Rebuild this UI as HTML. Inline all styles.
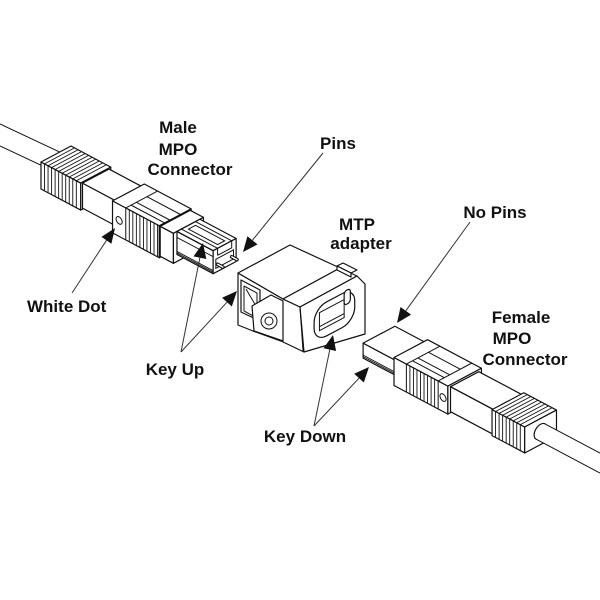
<!DOCTYPE html>
<html><head><meta charset="utf-8">
<style>
html,body{margin:0;padding:0;background:#fff;}
svg{display:block}
.f{fill:#fff;stroke:#111;stroke-width:1.2;stroke-linejoin:round;vector-effect:non-scaling-stroke}
.l{fill:none;stroke:#111;stroke-width:1;vector-effect:non-scaling-stroke}
.r{fill:none;stroke:#111;stroke-width:0.9;vector-effect:non-scaling-stroke}
.a{fill:none;stroke:#333;stroke-width:1}
.h{fill:#111;stroke:none}
text{font-family:"Liberation Sans",Arial,sans-serif;font-weight:bold;font-size:17px;fill:#111}
</style></head><body>
<svg width="600" height="600" viewBox="0 0 600 600">
<rect x="0" y="0" width="600" height="600" fill="#fff"/>

<!-- ===== Male cable ===== -->
<path class="l" d="M0 124L80 161.6M0 146L80 183.6"/>

<!-- ===== Male connector ===== -->
<g transform="translate(56,170)">
  <!-- M1 boot ridged x0-45 -->
  <g transform="matrix(.883,.469,0,-1,-15.01,7.97)">
    <rect class="f" x="0" y="-11" width="45" height="27"/>
    <path class="r" d="M4 -11V16M8 -11V16M12 -11V16M16 -11V16M20 -11V16M24 -11V16M28 -11V16M32 -11V16M36 -11V16M40 -11V16"/>
  </g>
  <g transform="matrix(.883,.469,.883,-.469,0,-16)">
    <rect class="f" x="0" y="-17" width="45" height="34"/>
    <path class="r" d="M4 -17V17M8 -17V17M12 -17V17M16 -17V17M20 -17V17M24 -17V17M28 -17V17M32 -17V17M36 -17V17M40 -17V17"/>
  </g>
  <g transform="matrix(.883,-.469,0,-1,39.74,21.11)">
    <rect class="f" x="-17" y="-11" width="34" height="27"/>
  </g>
  <!-- M2 boot smooth x45-82 -->
  <g transform="matrix(.883,.469,0,-1,-13.25,7.04)">
    <rect class="f" x="45" y="-10" width="37" height="25"/>
  </g>
  <g transform="matrix(.883,.469,.883,-.469,0,-15)">
    <rect class="f" x="45" y="-15" width="37" height="30"/>
  </g>
  <!-- M3/M4 collar + grip x82-135 -->
  <g transform="matrix(.883,.469,0,-1,-15.89,8.44)">
    <rect class="f" x="82" y="-16" width="53" height="32"/>
    <path class="l" d="M97 -16V16"/>
    <circle class="l" cx="89.5" cy="0" r="3.5"/>
    <path class="r" d="M101 -16V16M105 -16V16M109 -16V16M113 -16V16M117 -16V16M121 -16V16M125 -16V16M129 -16V16M133 -16V16"/>
  </g>
  <g transform="matrix(.883,.469,.883,-.469,0,-16)">
    <rect class="f" x="82" y="-18" width="53" height="36"/>
    <path class="l" d="M97 -18V18M97 -12H135M97 -6H135M97 6H135"/>
  </g>
  <g transform="matrix(.883,-.469,0,-1,119.21,63.32)">
    <rect class="f" x="-18" y="-16" width="36" height="32"/>
  </g>
  <!-- M5 housing front x135-150 -->
  <g transform="matrix(.883,.469,0,-1,-15.01,7.97)">
    <rect class="f" x="135" y="-15" width="15" height="30"/>
  </g>
  <g transform="matrix(.883,.469,.883,-.469,0,-15)">
    <rect class="f" x="135" y="-17" width="15" height="34"/>
  </g>
  <g transform="matrix(.883,-.469,0,-1,132.45,70.35)">
    <rect class="f" x="-17" y="-15" width="34" height="30"/>
  </g>
  <!-- M6 ferrule x150-191 -->
  <g transform="matrix(.883,.469,0,-1,-11.48,6.10)">
    <rect class="f" x="150" y="-8" width="41" height="23"/>
    <path class="r" d="M150 -5H191M150 -6.5H191M150 9H191"/>
  </g>
  <g transform="matrix(.883,.469,.883,-.469,0,-15)">
    <rect class="f" x="150" y="-13" width="41" height="26"/>
    <path class="l" d="M150 -8H191M150 8H191"/>
    <rect class="l" x="154" y="-4" width="33" height="8"/>
  </g>
  <g transform="matrix(.883,-.469,0,-1,168.65,89.58)">
    <rect class="f" x="-13" y="-8" width="26" height="23"/>
    <rect class="l" x="-10" y="-4" width="20" height="9"/>
    <path class="l" d="M-8 15V8M8 15V8M-8 8H8"/>
  </g>
</g>
<!-- male pins -->
<path d="M231.7 256.8L237 259.6M217.6 264.3L222.9 267.1" stroke="#111" stroke-width="3.6" stroke-linecap="round" fill="none"/>
<path d="M231.7 256.8L237 259.6M217.6 264.3L222.9 267.1" stroke="#fff" stroke-width="1.4" stroke-linecap="round" fill="none"/>

<!-- ===== Adapter ===== -->
<polygon class="f" points="238,273 283,299 300,307 304,352 281,341 253,331 238,325"/>
<polygon class="f" points="238,273 290,245 340,268 283,299"/>
<polygon class="f" points="283,299 340,268 357,276 300,307"/>
<polygon class="f" points="300,307 357,276 365,284 365,334 304,352"/>
<!-- latch bump -->
<polygon class="f" points="337,266 343,263 357,270 351,273"/>
<polygon class="f" points="337,266 351,273 351,277 337,270"/>
<!-- left opening -->
<polygon class="f" points="241,280 260,290 260,321 241,312"/>
<polyline class="l" points="244,286 257,293 257,318 244,311 244,286"/>
<path class="l" d="M246 289L256 306"/>
<!-- ear with hole -->
<polygon class="f" points="252,306 271,295 283,301 283,341 254,331"/>
<circle class="l" cx="269" cy="321" r="8"/>
<circle class="l" cx="269" cy="321" r="4"/>
<path class="l" d="M300 307L303 351"/>
<!-- oval receptacle -->
<g transform="matrix(.883,-.469,0,1,300,307)">
  <rect class="f" x="16" y="9" width="46" height="34" rx="14" ry="14"/>
  <rect class="l" x="22" y="16" width="28" height="18"/>
  <path class="l" d="M22 30H50"/>
  <rect class="f" x="50" y="8" width="7" height="14" rx="3" ry="3"/>
</g>

<!-- ===== Female connector ===== -->
<g transform="translate(379,345.7)">
  <!-- F1 ferrule x0-36 -->
  <g transform="matrix(.883,.469,0,-1,-15.89,8.44)">
    <rect class="f" x="0" y="-4" width="36" height="15"/>
    <path class="r" d="M0 -1H36M0 -2.5H36"/>
  </g>
  <g transform="matrix(.883,.469,.883,-.469,0,-11)">
    <rect class="f" x="0" y="-18" width="36" height="36"/>
  </g>
  <!-- F2-F4 collar/grip/collar x36-97 -->
  <g transform="matrix(.883,.469,0,-1,-16.78,8.91)">
    <rect class="f" x="36" y="-14" width="61" height="28"/>
    <path class="l" d="M50 -14V14M86 -14V14"/>
    <path class="r" d="M54 -14V14M58 -14V14M62 -14V14M66 -14V14M70 -14V14M74 -14V14M78 -14V14M82 -14V14"/>
    <circle class="l" cx="91.5" cy="0" r="3.5"/>
  </g>
  <g transform="matrix(.883,.469,.883,-.469,0,-14)">
    <rect class="f" x="36" y="-19" width="61" height="38"/>
    <path class="l" d="M50 -19V19M86 -19V19M50 -12H86M50 -6H86M50 6H86"/>
  </g>
  <g transform="matrix(.883,-.469,0,-1,85.65,45.49)">
    <rect class="f" x="-19" y="-14" width="38" height="28"/>
  </g>
  <!-- F5 boot smooth x97-146 -->
  <g transform="matrix(.883,.469,0,-1,-14.13,7.50)">
    <rect class="f" x="97" y="-13" width="49" height="25"/>
  </g>
  <g transform="matrix(.883,.469,.883,-.469,0,-12)">
    <rect class="f" x="97" y="-16" width="49" height="32"/>
  </g>
  <!-- F6 boot ridged x146-183 -->
  <g transform="matrix(.883,.469,0,-1,-15.89,8.44)">
    <rect class="f" x="146" y="-13" width="37" height="26"/>
    <path class="r" d="M150 -13V13M154 -13V13M158 -13V13M162 -13V13M166 -13V13M170 -13V13M174 -13V13M178 -13V13"/>
  </g>
  <g transform="matrix(.883,.469,.883,-.469,0,-13)">
    <rect class="f" x="146" y="-18" width="37" height="36"/>
    <path class="r" d="M150 -18V18M154 -18V18M158 -18V18M162 -18V18M166 -18V18M170 -18V18M174 -18V18M178 -18V18"/>
  </g>
  <g transform="matrix(.883,-.469,0,-1,161.59,85.83)">
    <rect class="f" x="-18" y="-13" width="36" height="26"/>
    <circle class="f" cx="0" cy="0" r="7.3"/>
  </g>
</g>
<!-- female cable -->
<polygon points="545,423.9 600,453.1 600,473.1 536.2,439.2" fill="#fff" stroke="none"/>
<path class="l" d="M545 423.9L600 453.1M536.2 439.2L600 473.1"/>

<!-- ===== Arrows ===== -->
<path class="a" d="M72 293L106.5 240.3"/>
<polygon class="h" points="115,228 111.4,243.8 101.5,236.9"/>
<path class="a" d="M181 352L199.9 257.7"/>
<polygon class="h" points="203,243 206.3,259 193.5,256.4"/>
<path class="a" d="M181 352L227 302.2"/>
<polygon class="h" points="237,291 231.8,306.5 222.1,297.8"/>
<path class="a" d="M323 153L252.4 240.3"/>
<polygon class="h" points="243,252 257.5,244.4 247.4,236.2"/>
<path class="a" d="M470 222L405.8 310.8"/>
<polygon class="h" points="397,323 411.1,314.6 400.5,307"/>
<path class="a" d="M314 426L329.8 349.6"/>
<polygon class="h" points="333,335 336.1,351 323.5,348.3"/>
<path class="a" d="M314 426L359 378.2"/>
<polygon class="h" points="369,367 363.8,382.5 354.2,373.8"/>

<!-- ===== Labels ===== -->
<text x="178" y="133" text-anchor="middle">Male</text>
<text x="178" y="155" text-anchor="middle">MPO</text>
<text x="190" y="175" text-anchor="middle">Connector</text>
<text x="338" y="149" text-anchor="middle">Pins</text>
<text x="357" y="230" text-anchor="middle">MTP</text>
<text x="361" y="249" text-anchor="middle">adapter</text>
<text x="495" y="218" text-anchor="middle">No Pins</text>
<text x="521" y="323" text-anchor="middle">Female</text>
<text x="512" y="344" text-anchor="middle">MPO</text>
<text x="525" y="365" text-anchor="middle">Connector</text>
<text x="27" y="312">White Dot</text>
<text x="175" y="375" text-anchor="middle">Key Up</text>
<text x="305" y="442" text-anchor="middle">Key Down</text>
</svg>
</body></html>
